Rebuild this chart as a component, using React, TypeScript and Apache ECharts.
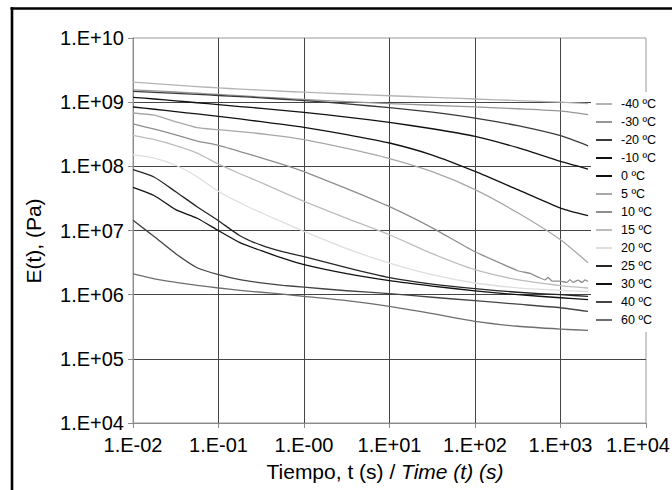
import React, { useEffect, useRef } from 'react';
import * as echarts from 'echarts';

const FONT = '"Liberation Sans", Arial, Helvetica, sans-serif';

// Time grid (s) shared by all curves
const times = [0.01, 0.0178, 0.0316, 0.0562, 0.1, 0.178, 0.316, 0.562, 1, 3.16, 10, 31.6, 100, 316, 1000, 2100];

// Relaxation modulus E(t) in Pa
const eM40 = [2.05e9, 1.94e9, 1.84e9, 1.75e9, 1.67e9, 1.6e9, 1.54e9, 1.48e9, 1.43e9, 1.34e9, 1.26e9, 1.19e9, 1.12e9, 1.06e9, 9.98e8, 9.5e8];
const eM30 = [1.56e9, 1.5e9, 1.44e9, 1.38e9, 1.32e9, 1.26e9, 1.2e9, 1.15e9, 1.1e9, 1.02e9, 9.5e8, 8.95e8, 8.45e8, 7.9e8, 7.3e8, 6.4e8];
const eM20 = [1.47e9, 1.42e9, 1.37e9, 1.32e9, 1.27e9, 1.22e9, 1.17e9, 1.11e9, 1.06e9, 9.4e8, 8.2e8, 6.98e8, 5.66e8, 4.3e8, 3.0e8, 2.09e8];
const eM10 = [1.19e9, 1.12e9, 1.05e9, 9.8e8, 9.15e8, 8.55e8, 8.0e8, 7.46e8, 6.95e8, 5.85e8, 4.84e8, 3.85e8, 2.93e8, 1.95e8, 1.19e8, 9.08e7];
const e0 = [8.41e8, 7.76e8, 7.12e8, 6.55e8, 6.0e8, 5.47e8, 4.97e8, 4.5e8, 4.05e8, 3.13e8, 2.31e8, 1.5e8, 8.34e7, 4.33e7, 2.24e7, 1.7e7];
const e5 = [6.78e8, 6.27e8, 4.95e8, 4.0e8, 3.72e8, 3.47e8, 3.22e8, 2.92e8, 2.6e8, 1.9e8, 1.32e8, 8.24e7, 4.33e7, 1.89e7, 7.18e6, 3.15e6];
const e10 = [4.57e8, 3.8e8, 3.1e8, 2.48e8, 2.12e8, 1.7e8, 1.36e8, 1.07e8, 8.24e7, 4.5e7, 2.35e7, 1.1e7, 4.67e6, 2.36e6, 1.62e6, 1.6e6];
const e15 = [3.03e8, 2.6e8, 2.1e8, 1.61e8, 1.08e8, 7.67e7, 5.56e7, 3.95e7, 2.84e7, 1.55e7, 8.59e6, 4.35e6, 2.45e6, 1.71e6, 1.38e6, 1.27e6];
const e20 = [1.52e8, 1.34e8, 1.04e8, 6.89e7, 4.06e7, 2.71e7, 1.89e7, 1.35e7, 9.68e6, 5.2e6, 3.11e6, 2.05e6, 1.52e6, 1.28e6, 1.17e6, 1.12e6];
const e25 = [8.85e7, 6.76e7, 4.02e7, 2.35e7, 1.42e7, 8.3e6, 5.9e6, 4.67e6, 3.9e6, 2.63e6, 1.84e6, 1.46e6, 1.24e6, 1.09e6, 9.98e5, 9.4e5];
const e30 = [4.69e7, 3.48e7, 2.11e7, 1.55e7, 9.93e6, 6.46e6, 4.84e6, 3.7e6, 2.93e6, 2.12e6, 1.65e6, 1.36e6, 1.15e6, 9.98e5, 8.96e5, 8.34e5];
const e40 = [1.44e7, 8.0e6, 4.35e6, 2.63e6, 2.05e6, 1.71e6, 1.53e6, 1.4e6, 1.31e6, 1.15e6, 1.04e6, 9.12e5, 8.05e5, 7.1e5, 6.25e5, 5.48e5];
const e60 = [2.1e6, 1.76e6, 1.56e6, 1.4e6, 1.27e6, 1.17e6, 1.09e6, 1.02e6, 9.4e5, 8.05e5, 6.56e5, 5.05e5, 3.83e5, 3.22e5, 2.91e5, 2.77e5];

// Noisy tail of the 10 ºC curve
const noiseT10 = [440, 560, 659, 714, 796, 1190, 1290, 1400, 1600, 1780, 1940];
const noiseE10 = [2.15e6, 1.85e6, 1.7e6, 1.85e6, 1.63e6, 1.55e6, 1.72e6, 1.55e6, 1.68e6, 1.55e6, 1.7e6];

const seriesNames = ['-40 ºC', '-30 ºC', '-20 ºC', '-10 ºC', '0 ºC', '5 ºC', '10 ºC', '15 ºC', '20 ºC', '25 ºC', '30 ºC', '40 ºC', '60 ºC'];
const seriesValues = [eM40, eM30, eM20, eM10, e0, e5, e10, e15, e20, e25, e30, e40, e60];
const seriesColors = ['#b4b4b4', '#969696', '#3a3a3a', '#111111', '#111111', '#a8a8a8', '#8e8e8e', '#bdbdbd', '#dedede', '#262626', '#111111', '#454545', '#6e6e6e'];

const xTickValues = [0.01, 0.1, 1, 10, 100, 1000, 10000];
const xTickLabels = ['1.E-02', '1.E-01', '1.E-00', '1.E+01', '1.E+02', '1.E+03', '1.E+04'];
const yTickValues = [1e4, 1e5, 1e6, 1e7, 1e8, 1e9, 1e10];
const yTickLabels = ['1.E+04', '1.E+05', '1.E+06', '1.E+07', '1.E+08', '1.E+09', '1.E+10'];

function findIndex(values: number[], v: number) {
  let best = 0;
  let bd = Infinity;
  values.forEach((t, i) => {
    const d = Math.abs(Math.log10(t) - Math.log10(v));
    if (d < bd) { bd = d; best = i; }
  });
  return bd < 0.01 ? best : -1;
}

export default function App() {
  const ref = useRef<HTMLDivElement>(null);
  useEffect(() => {
    const chart = echarts.init(ref.current!, null, { renderer: 'svg' });

    const series = seriesNames.map((name, i) => {
      let pts: [number, number][] = times.map((t, j) => [t, seriesValues[i][j]]);
      if (name === '10 ºC') {
        pts = pts.concat(noiseT10.map((t, j) => [t, noiseE10[j]] as [number, number]));
        pts.sort((a, b) => a[0] - b[0]);
      }
      return {
        name,
        type: 'line',
        data: pts,
        showSymbol: false,
        symbol: 'none',
        smooth: name === '10 ºC' ? 0.1 : 0.2,
        color: seriesColors[i],
        lineStyle: { color: seriesColors[i], width: 1.3, join: 'round' },
        silent: true,
      };
    });

    const xFormatter = (v: number) => {
      const k = findIndex(xTickValues, v);
      if (k < 0) return '';
      // the last label sits at the right edge of the picture: nudge it inwards
      return k === xTickLabels.length - 1 ? `{last|${xTickLabels[k]}}` : xTickLabels[k];
    };
    const yFormatter = (v: number) => {
      const k = findIndex(yTickValues, v);
      return k < 0 ? '' : yTickLabels[k];
    };

    const axisGray = '#8a8a8a';
    chart.setOption({
      animation: false,
      backgroundColor: '#ffffff',
      textStyle: { fontFamily: FONT },
      grid: {
        left: 133, top: 38, right: 26, bottom: 67,
        show: true, borderColor: '#9a9a9a', borderWidth: 1, backgroundColor: 'transparent',
        containLabel: false, outerBoundsMode: 'none',
      },
      xAxis: {
        type: 'log', logBase: 10, min: 0.01, max: 10000, splitNumber: 6,
        axisLine: { show: true, lineStyle: { color: axisGray, width: 1 } },
        axisTick: { show: true, inside: false, length: 5, lineStyle: { color: axisGray } },
        axisLabel: {
          margin: 12, fontSize: 20, color: '#000', fontFamily: FONT, formatter: xFormatter,
          rich: { last: { fontSize: 20, fontFamily: FONT, color: '#000', padding: [0, 16, 0, 0] } },
        },
        splitLine: { show: true, showMinLine: false, showMaxLine: false, lineStyle: { color: '#444444', width: 1 } },
        minorTick: { show: false },
      },
      yAxis: {
        type: 'log', logBase: 10, min: 1e4, max: 1e10, splitNumber: 6,
        axisLine: { show: true, lineStyle: { color: axisGray, width: 1 } },
        axisTick: { show: true, inside: false, length: 5, lineStyle: { color: axisGray } },
        axisLabel: { margin: 9, fontSize: 20, color: '#000', fontFamily: FONT, formatter: yFormatter },
        splitLine: { show: true, showMinLine: false, showMaxLine: false, lineStyle: { color: '#444444', width: 1 } },
      },
      legend: {
        show: true,
        data: seriesNames,
        orient: 'vertical',
        left: 591, top: 92,
        itemWidth: 16, itemHeight: 2, itemGap: 4,
        icon: 'rect',
        padding: [5, 3, 5, 5],
        backgroundColor: '#ffffff',
        borderWidth: 0,
        selectedMode: false,
        textStyle: { fontSize: 12.5, fontFamily: FONT, color: '#000', lineHeight: 14, padding: [0, 0, 0, 4] },
      },
      graphic: [
        { type: 'rect', shape: { x: 669, y: 11, width: 3, height: 420 }, style: { fill: '#ffffff' }, z: 150 },
        { type: 'rect', shape: { x: 669, y: 460, width: 3, height: 30 }, style: { fill: '#ffffff' }, z: 150 },
        { type: 'line', shape: { x1: 10.5, y1: 8.5, x2: 672, y2: 8.5 }, style: { stroke: '#000', lineWidth: 2.6 }, z: 100 },
        { type: 'line', shape: { x1: 12, y1: 7.2, x2: 12, y2: 490 }, style: { stroke: '#000', lineWidth: 2.6 }, z: 100 },
        {
          type: 'text', x: 33, y: 241, rotation: Math.PI / 2,
          style: { text: 'E(t), (Pa)', fontSize: 21, fontFamily: FONT, fill: '#000', align: 'center', verticalAlign: 'middle' },
        },
        {
          type: 'text', x: 385, y: 471,
          style: {
            text: '{a|Tiempo, t (s) / }{b|Time (t) (s)}',
            fill: '#000', align: 'center', verticalAlign: 'middle',
            rich: {
              a: { fontSize: 21, fontFamily: FONT, fill: '#000' },
              b: { fontSize: 21, fontFamily: FONT, fontStyle: 'italic', fill: '#000' },
            },
          },
        },
      ],
      series,
    });
    return () => chart.dispose();
  }, []);
  return <div ref={ref} style={{ position: 'fixed', left: 0, top: 0, width: 672, height: 490, background: '#fff', overflow: 'hidden' }} />;
}
